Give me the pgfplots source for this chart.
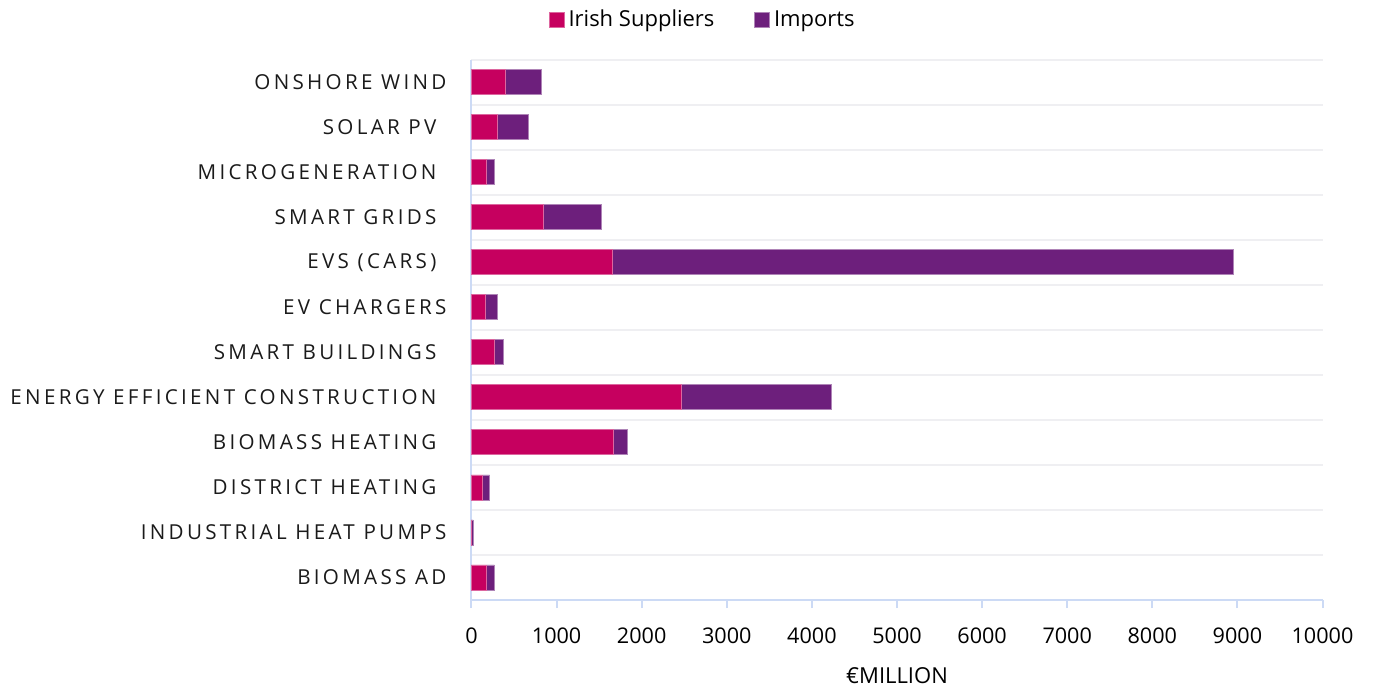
\documentclass[border=0pt]{standalone}
\usepackage{pgfplots}
\pgfplotsset{compat=1.18}
\usepackage{fontspec}
\setmainfont{Open Sans}
\newfontfamily\spaced[LetterSpace=16]{Open Sans}
\definecolor{irish}{HTML}{C6005F}
\definecolor{imports}{HTML}{6D1F7C}
\definecolor{axblue}{HTML}{CCDAF5}
\definecolor{gridgray}{HTML}{EFEFF2}
\definecolor{labtxt}{HTML}{1A1A1A}
\begin{document}
\begin{tikzpicture}
\path[use as bounding box] (-235.75pt,-45pt) rectangle (451.25pt,300pt);
\begin{axis}[
  scale only axis,
  width=425.5pt, height=270.25pt,
  xbar stacked,
  bar width=12.5pt,
  xmin=0, xmax=10000,
  ymin=-0.5, ymax=11.5,
  y dir=reverse,
  ytick={0,...,11},
  yticklabels={
    {ONSHORE WIND},
    {SOLAR PV\hspace*{5pt}},
    {MICROGENERATION\hspace*{5pt}},
    {SMART GRIDS\hspace*{5pt}},
    {EVS (CARS)\hspace*{5pt}},
    {EV CHARGERS},
    {SMART BUILDINGS\hspace*{5pt}},
    {ENERGY EFFICIENT CONSTRUCTION\hspace*{5pt}},
    {BIOMASS HEATING\hspace*{5pt}},
    {DISTRICT HEATING\hspace*{5pt}},
    {INDUSTRIAL HEAT PUMPS},
    {BIOMASS AD}},
  yticklabel style={font=\spaced\fontsize{10.3pt}{12pt}\selectfont, text=labtxt, xshift=-5pt},
  ytick style={draw=none},
  minor ytick={-0.5,0.5,...,11.5},
  ymajorgrids=false,
  yminorgrids=true,
  minor grid style={gridgray, line width=1pt},
  major tick length=4pt,
  minor tick length=6pt,
  minor tick style={axblue, line width=1pt},
  xtick={0,1000,...,10000},
  xtick style={axblue, line width=1pt},
  tick align=outside,
  xticklabel style={font=\fontsize{10.8pt}{13pt}\selectfont, text=black, yshift=-6.5pt},
  scaled x ticks=false,
  x tick label style={/pgf/number format/.cd, 1000 sep={}, assume math mode=true},
  axis x line*=bottom,
  axis y line*=left,
  axis line style={axblue, line width=1pt, -},
  xlabel={€MILLION},
  xlabel style={font=\fontsize{11pt}{13pt}\selectfont, at={(axis description cs:0.5,0)}, anchor=base, yshift=-41.5pt},
  legend style={at={(0.273,1.073)}, anchor=center, draw=none, fill=none,
    legend columns=2, font=\fontsize{11pt}{13pt}\selectfont,
    /tikz/every even column/.append style={column sep=18pt}},
  legend image code/.code={\fill[#1] (0pt,-3.6pt) rectangle (7.4pt,3.8pt);},
  clip=false,
]
\addplot[fill=irish, draw=irish!60!white, line width=0.4pt] coordinates {
(400,0) (305,1) (175,2) (845,3) (1657,4) (162,5) (273,6) (2461,7) (1673,8) (127,9) (3,10) (174,11)};
\addplot[fill=imports, draw=imports!55!white, line width=0.4pt] coordinates {
(420,0) (360,1) (93,2) (687,3) (7300,4) (138,5) (98,6) (1772,7) (160,8) (87,9) (17,10) (94,11)};
\legend{Irish Suppliers, Imports}
\end{axis}
\end{tikzpicture}
\end{document}
